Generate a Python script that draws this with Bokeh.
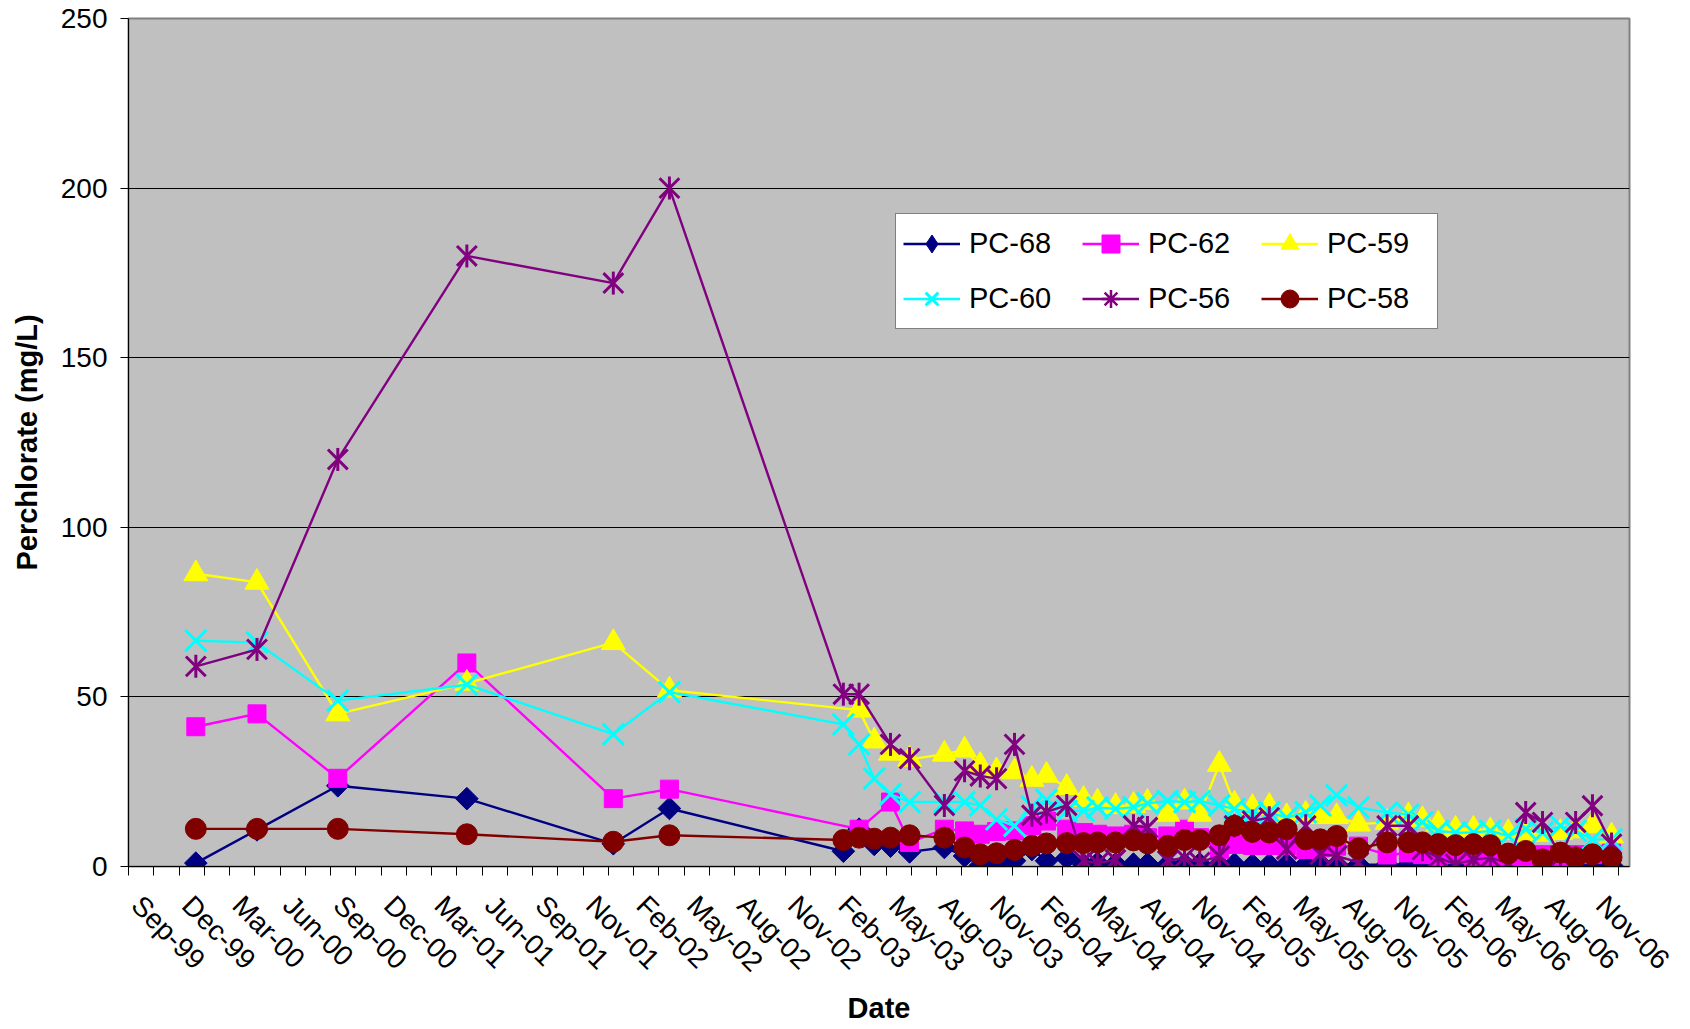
import numpy as np
from bokeh.plotting import figure
from bokeh.models import (Range1d, FixedTicker, Legend, LegendItem, ColumnDataSource,
                          LinearAxis)
from bokeh.embed import file_html
from bokeh.resources import INLINE

# axis origin (first tick) and tick labels, one every 90 days
axis_start = "1999-09-12"
tick_labels = ["Sep-99", "Dec-99", "Mar-00", "Jun-00", "Sep-00", "Dec-00", "Mar-01", "Jun-01",
               "Sep-01", "Nov-01", "Feb-02", "May-02", "Aug-02", "Nov-02", "Feb-03", "May-03",
               "Aug-03", "Nov-03", "Feb-04", "May-04", "Aug-04", "Nov-04", "Feb-05", "May-05",
               "Aug-05", "Nov-05", "Feb-06", "May-06", "Aug-06", "Nov-06"]

# sampling dates
early_dates = ["2000-01-10", "2000-04-28", "2000-09-19", "2001-05-07", "2002-01-23", "2002-05-03"]
late_dates = ["2003-03-09", "2003-04-06", "2003-05-03", "2003-06-01", "2003-07-05", "2003-09-05",
              "2003-10-11", "2003-11-08", "2003-12-07", "2004-01-08", "2004-02-08", "2004-03-05",
              "2004-04-10", "2004-05-10", "2004-06-04", "2004-07-06", "2004-08-07", "2004-09-01",
              "2004-10-07", "2004-11-06", "2004-12-03", "2005-01-07", "2005-02-03", "2005-03-07",
              "2005-04-06", "2005-05-07", "2005-06-10", "2005-07-06", "2005-08-04", "2005-09-12",
              "2005-11-02", "2005-12-10", "2006-01-04", "2006-02-01", "2006-03-04", "2006-04-05",
              "2006-05-05", "2006-06-06", "2006-07-07", "2006-08-06", "2006-09-07", "2006-10-04",
              "2006-11-03", "2006-12-07"]

# perchlorate, mg/L (None = not sampled)
pc68 = [1, 10.8, 23.8, 20, 6.7, 17.1,
        4.5, 11, 6.5, 6, 4.3, 5.6, 3.1, 0.3, 0.5, 1.7, 5, 1.7, 2.5, 0.6, 1.0, 0.8, 0.7, 0.8,
        0.6, 0.7, 0.8, 0.6, 0.7, 0.5, 0.6, 0.7, 0.6, 0.8, 0.6, 0.5, 0.5, 0.4, 0.5, 0.4, 0.3,
        0.5, 0.4, 0.3, 0.4, 0.3, 0.4, 0.3, 0.4, 0.3]
pc62 = [41.2, 45, 26, 60, 20, 22.8,
        None, 11, None, 19, 7.1, 11, 10.5, 9.5, 10.3, 10.5, 12, 13.4, 11, 10, 9.5, 9, 9.5, 8.5,
        9, 11, 8.5, 5.1, 6.5, 6.2, 6.2, 6.2, 5, 5.5, 6, 6, 3.4, 4, 3.5, 3, 3.5, 3, 3, 3, 2.5,
        3.5, 3, 3.5, 3.5, 4]
pc59 = [86.3, 83.8, 45, 54, 66, 52,
        None, 46.1, 37, 33.4, 31.6, 33.1, 34.3, 29.8, 28.2, 27.9, 25.7, 26.9, 23.3, 19.8, 19,
        17.7, 18, 18.9, 15.4, 19, 15.4, 30.1, 18.4, 17.4, 17.7, 14.7, 15.4, 14.7, 14.7, 12.5,
        13, 14.9, 13.8, 12.5, 11, 11, 10.5, 10, 9.5, 9.5, 10, 10.5, 12, 9]
pc60 = [66.6, 66, 48.9, 53.6, 39, 51.4,
        41.9, 36, 25.9, 21.3, 19, 19, 19, 18, 13.9, 12, 17.7, 19.6, 16.4, 16.4, 17.4, 17, 17.5,
        18.6, 19.3, 19, 19.3, 18, 17, 15.7, 16, 14.4, 16, 18, 21, 17.4, 15.9, 15.3, 13, 10.5,
        10, 10, 10.5, 9, 11, 10, 12, 10.5, 8, 8]
pc56 = [59, 64, 120, 180, 172, 200,
        50.8, 50.8, None, 36, 31.8, 18, 28.2, 26.7, 25.9, 36, 15.1, 16.1, 18, 1.7, 1.0, 2.0,
        12, 11.5, 1.7, 2.6, 1.2, 3.1, 12, 13.4, 14.4, 5.1, 12, 3.6, 3.1, 1.2, 12, 12, 5, 2.6,
        0.7, 2, 2.6, 1, 15.9, 13, 3, 13, 17.9, 6.6]
pc58 = [11.1, 11.1, 11.1, 9.5, 7.3, 9.2,
        7.8, 8.5, 8.2, 8.5, 9.2, 8.5, 5.6, 3.6, 3.9, 4.9, 6.1, 6.8, 6.9, 6.9, 7.1, 7.1, 7.7,
        6.8, 6.1, 7.8, 7.8, 9.2, 12.0, 10.2, 10.0, 11.0, 8.0, 8.0, 9.0, 5.3, 7.1, 7.1, 7.1,
        6.6, 6.3, 6.6, 6.3, 3.8, 4.6, 2.1, 4.1, 2.7, 3.6, 2.7]

FONT = "Liberation Sans"

origin = np.datetime64(axis_start)
x_days = (np.array(early_dates + late_dates, dtype="datetime64[D]") - origin).astype(int)

x_end = 2675
p = figure(width=1680, height=1027, x_range=Range1d(0, x_end), y_range=Range1d(0, 250),
           output_backend="svg", toolbar_location=None,
           min_border_left=128, min_border_right=51, min_border_top=18, min_border_bottom=160,
           background_fill_color="#C0C0C0", border_fill_color="white",
           outline_line_color="#808080", outline_line_width=2)

major = [i * 90 for i in range(len(tick_labels))]
all_ticks = [i * 45 for i in range(2 * len(tick_labels))]

# tick marks only on the main axis
p.xaxis.ticker = FixedTicker(ticks=[], minor_ticks=all_ticks)
p.xaxis.minor_tick_out = 9
p.xaxis.minor_tick_in = 0
p.xaxis.major_tick_out = 0
p.xaxis.major_tick_in = 0
p.xaxis.major_label_standoff = 0
p.xaxis.axis_line_color = "black"
p.xaxis.minor_tick_line_color = "black"

# labels hang a little right of their tick, as in the original chart
p.extra_x_ranges = {"labels": Range1d(-14, x_end - 14)}
lab_axis = LinearAxis(x_range_name="labels", ticker=FixedTicker(ticks=major, minor_ticks=[]),
                      major_label_overrides={t: lab for t, lab in zip(major, tick_labels)},
                      major_label_orientation=-np.pi / 4, major_label_standoff=25,
                      axis_line_color=None, major_tick_line_color=None,
                      minor_tick_line_color=None, major_tick_out=0, minor_tick_out=0,
                      axis_label="Date", axis_label_standoff=1)
p.add_layout(lab_axis, "below")

p.yaxis.ticker = FixedTicker(ticks=[0, 50, 100, 150, 200, 250])
p.yaxis.major_tick_out = 8
p.yaxis.major_tick_in = 0
p.yaxis.minor_tick_line_color = None
p.yaxis.major_label_standoff = 13
p.yaxis.axis_label = "Perchlorate (mg/L)"
p.yaxis.axis_label_standoff = 15
p.yaxis.axis_line_color = "black"
p.yaxis.major_tick_line_color = "black"

for ax in (lab_axis, p.yaxis[0]):
    ax.major_label_text_font = FONT
    ax.major_label_text_font_size = "28px"
    ax.major_label_text_color = "black"
    ax.axis_label_text_font = FONT
    ax.axis_label_text_font_size = "29px"
    ax.axis_label_text_font_style = "bold"
    ax.axis_label_text_color = "black"

p.xgrid.grid_line_color = None
p.ygrid.ticker = FixedTicker(ticks=[50, 100, 150, 200])
p.ygrid.grid_line_color = "black"
p.ygrid.grid_line_width = 1

series = [
    ("PC-68", pc68, "#000080"),
    ("PC-62", pc62, "#FF00FF"),
    ("PC-59", pc59, "#FFFF00"),
    ("PC-60", pc60, "#00FFFF"),
    ("PC-56", pc56, "#800080"),
    ("PC-58", pc58, "#800000"),
]

items = []
for name, vals, col in series:
    xs = [x for x, v in zip(x_days, vals) if v is not None]
    ys = [v for v in vals if v is not None]
    src = ColumnDataSource(data=dict(x=xs, y=ys))
    line = p.line("x", "y", source=src, line_color=col, line_width=2.4)
    rs = [line]
    if name == "PC-68":
        # rotated square on the plot; the legend gets a plain diamond (angle is ignored there)
        p.scatter("x", "y", source=src, marker="square", angle=np.pi / 4, size=16,
                  fill_color=col, line_color=col)
        rs.append(p.scatter("x", "y", source=src, marker="diamond", size=20,
                            fill_color=col, line_color=col, visible=False))
    elif name == "PC-62":
        rs.append(p.scatter("x", "y", source=src, marker="square", size=18,
                            fill_color=col, line_color=col))
    elif name == "PC-59":
        rs.append(p.scatter("x", "y", source=src, marker="triangle", size=24,
                            fill_color=col, line_color=col))
    elif name == "PC-60":
        rs.append(p.scatter("x", "y", source=src, marker="x", size=30,
                            line_color=col, line_width=3))
    elif name == "PC-56":
        # Excel star: an x with a vertical stroke
        p.scatter("x", "y", source=src, marker="x", size=28, line_color=col, line_width=3)
        p.scatter("x", "y", source=src, marker="dash", angle=np.pi / 2, size=23,
                  line_color=col, line_width=3)
        rs.append(p.scatter("x", "y", source=src, marker="asterisk", size=24,
                            line_color=col, line_width=2.5, visible=False))
    else:
        rs.append(p.scatter("x", "y", source=src, marker="circle", size=21,
                            fill_color=col, line_color=col))
    items.append(LegendItem(label=name, renderers=rs))

legend = Legend(items=items, location=(767, 537), orientation="horizontal", ncols=3,
                label_text_font=FONT, label_text_font_size="29px", label_text_color="black",
                glyph_width=57, glyph_height=45, label_standoff=9, label_width=103,
                spacing=10, padding=7, margin=0, inactive_fill_alpha=0,
                border_line_color="black", border_line_width=1,
                background_fill_color="white", background_fill_alpha=1.0)
p.add_layout(legend, "center")

open("out.html", "w").write(file_html(p, INLINE))
